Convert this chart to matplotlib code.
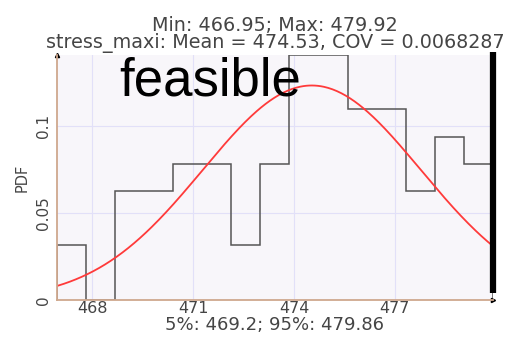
import matplotlib.pyplot as plt
import numpy as np

# histogram of stress_maxi samples (15 equal bins between min and max)
x_min = 466.95
x_max = 479.92
counts = [2, 0, 4, 4, 5, 5, 2, 5, 9, 9, 7, 7, 4, 6, 5]
mean = 474.53
cov = 0.0068287
p05 = 469.2
p95 = 479.86
xticks = [468, 471, 474, 477]
yticks = [0, 0.05, 0.1]

TXT = '#454545'
GRID = '#e2e0f8'
SPINE = '#cfa88e'

edges = np.linspace(x_min, x_max, len(counts) + 1)
width = edges[1] - edges[0]
pdf = np.array(counts) / (np.sum(counts) * width)

xs = np.linspace(x_min, x_max, 300)
sd = mean * cov
fit = np.exp(-0.5 * ((xs - mean) / sd) ** 2) / (sd * np.sqrt(2 * np.pi))

fig = plt.figure(figsize=(5.12, 3.37), dpi=100)
ax = fig.add_axes([0.111, 0.110, 0.852, 0.727])
ax.set_facecolor('#f8f6fa')

ax.stairs(pdf, edges, color='#555555', lw=1.1)
ax.plot(xs, fit, color='#ff3a3a', lw=1.3)
# limit marker at the right end
ax.plot([x_max, x_max], [0.004, 0.1425], color='black', lw=4.5,
        solid_capstyle='butt', clip_on=False)

ax.set_xlim(x_min, x_max)
ax.set_ylim(0, pdf.max())
ax.set_xticks(xticks)
ax.set_yticks(yticks)
ax.set_yticklabels(['0', '0.05', '0.1'], rotation=90, va='center')
ax.grid(True, color=GRID, lw=0.8)
ax.set_axisbelow(True)

for s in ['top', 'right']:
    ax.spines[s].set_visible(False)
for s in ['left', 'bottom']:
    ax.spines[s].set_color(SPINE)
    ax.spines[s].set_linewidth(1.3)
ax.plot(0, 1, '^k', ms=3, transform=ax.transAxes, clip_on=False)
ax.plot(1, 0, '>k', ms=3, transform=ax.transAxes, clip_on=False)

ax.tick_params(length=0, colors=TXT)
ax.tick_params(axis='x', labelsize=11.5, pad=1)
ax.tick_params(axis='y', labelsize=11, pad=4)
ax.set_ylabel('PDF', fontsize=10.5, color=TXT, labelpad=5)
ax.set_xlabel('5%%: %.1f; 95%%: %.2f' % (p05, p95), fontsize=13, color=TXT, labelpad=0)
ax.set_title('Min: %.2f; Max: %.2f\nstress_maxi: Mean = %.2f, COV = %.7f' % (x_min, x_max, mean, cov),
             fontsize=13.8, color=TXT, linespacing=0.88, pad=5)

ax.text(0.143, 0.835, 'feasible', transform=ax.transAxes, fontsize=38,
        family='Liberation Sans', color='black')

plt.savefig('out.png', dpi=100)
